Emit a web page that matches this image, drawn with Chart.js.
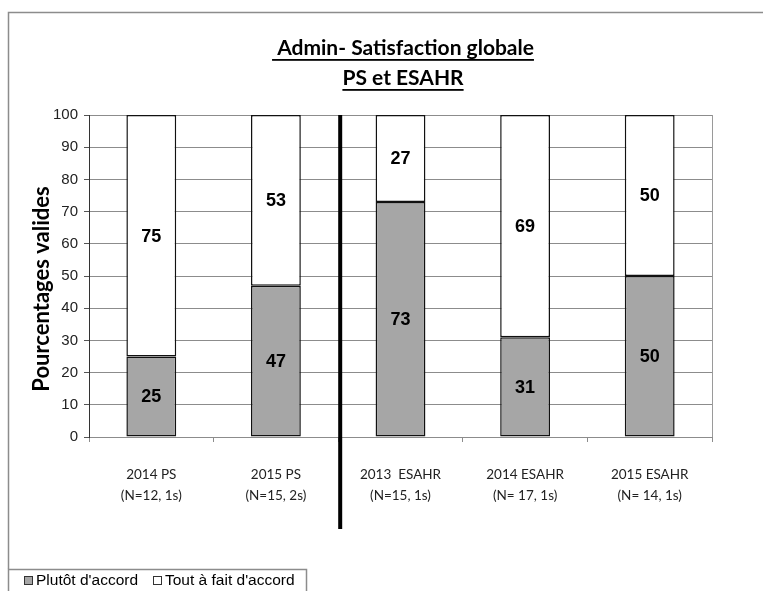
<!DOCTYPE html>
<html>
<head>
<meta charset="utf-8">
<script src="https://cdn.jsdelivr.net/npm/chart.js@4"></script>
<style>
  html, body { margin: 0; padding: 0; background: #fff; }
  #wrap { width: 763px; height: 591px; }
</style>
</head>
<body>
<div id="wrap"><canvas id="satChart" width="763" height="591"></canvas></div>
<script>
// categories and values
var categories = [
    ['2014 PS', '(N=12, 1s)'],
    ['2015 PS', '(N=15, 2s)'],
    ['2013  ESAHR', '(N=15, 1s)'],
    ['2014 ESAHR', '(N= 17, 1s)'],
    ['2015 ESAHR', '(N= 14, 1s)']
];
var plutotAccord = [25, 47, 73, 31, 50];
var toutAFait = [75, 53, 27, 69, 50];
var seriesNames = ["Plutôt d'accord", "Tout à fait d'accord"];
var seriesColors = ['#a6a6a6', '#ffffff'];
var titleLines = [' Admin- Satisfaction globale', 'PS et ESAHR'];

// frame, title, value labels, separator and legend
var decorPlugin = {
    id: 'decor',
    beforeDraw: function(chart) {
        var c = chart.ctx;
        c.save();
        c.fillStyle = '#fff';
        c.fillRect(0, 0, chart.width, chart.height);
        c.strokeStyle = '#8c8c8c';
        c.lineWidth = 1.5;
        c.beginPath();
        c.moveTo(8.5, 569);
        c.lineTo(8.5, 12.5);
        c.lineTo(763, 12.5);
        c.stroke();
        c.restore();
    },
    afterDraw: function(chart) {
        var c = chart.ctx;
        var area = chart.chartArea;
        var x = chart.scales.x;
        c.save();

        // right border of plot
        c.strokeStyle = '#9a9a9a';
        c.lineWidth = 1;
        c.beginPath();
        c.moveTo(Math.round(area.right) + 0.5, area.top);
        c.lineTo(Math.round(area.right) + 0.5, area.bottom);
        c.stroke();

        // title, underlined
        c.fillStyle = '#000';
        c.font = 'bold 21px Lato';
        c.textAlign = 'center';
        c.textBaseline = 'alphabetic';
        var ty = [55, 85];
        titleLines.forEach(function(t, i) {
            c.fillText(t, 403, ty[i]);
            var w = c.measureText(t).width;
            c.fillRect(403 - w / 2, ty[i] + 4, w, 1.8);
        });

        // y axis title
        c.save();
        c.translate(42, 289);
        c.rotate(-Math.PI / 2);
        c.font = 'bold 22px Lato';
        c.textBaseline = 'middle';
        c.fillText('Pourcentages valides', 0, 0);
        c.restore();

        // separator between PS and ESAHR
        var sx = (x.getPixelForValue(1) + x.getPixelForValue(2)) / 2 + 2;
        c.fillStyle = '#000';
        c.fillRect(sx - 2, area.top, 4, 529 - area.top);

        // values in the segments
        c.font = 'bold 18px "Liberation Sans"';
        c.textBaseline = 'middle';
        chart.data.datasets.forEach(function(ds, di) {
            chart.getDatasetMeta(di).data.forEach(function(bar, i) {
                c.fillText(String(ds.data[i]), bar.x, (bar.y + bar.base) / 2 + 1);
            });
        });

        // legend box
        c.strokeStyle = '#8c8c8c';
        c.lineWidth = 1.5;
        c.strokeRect(8.5, 569.5, 298, 40);
        c.font = '15.5px "Liberation Sans"';
        c.textAlign = 'left';
        var lx = [24, 153];
        seriesNames.forEach(function(n, i) {
            c.fillStyle = seriesColors[i];
            c.fillRect(lx[i] + 0.5, 576.5, 8, 8);
            c.strokeStyle = '#333';
            c.lineWidth = 1;
            c.strokeRect(lx[i] + 0.5, 576.5, 8, 8);
            c.fillStyle = '#000';
            c.fillText(n, lx[i] + 12, 581);
        });
        c.restore();
    }
};

var ctx = document.getElementById('satChart').getContext('2d');
var satChart = new Chart(ctx, {
    type: 'bar',
    data: {
        labels: categories,
        datasets: [{
            label: seriesNames[0],
            data: plutotAccord,
            backgroundColor: seriesColors[0],
            borderColor: '#111',
            borderWidth: 1.5,
            borderSkipped: false
        }, {
            label: seriesNames[1],
            data: toutAFait,
            backgroundColor: seriesColors[1],
            borderColor: '#111',
            borderWidth: 1.5,
            borderSkipped: false
        }]
    },
    options: {
        responsive: false,
        animation: false,
        devicePixelRatio: 1,
        categoryPercentage: 1,
        barPercentage: 0.4,
        layout: { padding: { left: 0, top: 115, right: 51, bottom: 0 } },
        plugins: {
            legend: { display: false },
            title: { display: false },
            tooltip: { enabled: false }
        },
        scales: {
            x: {
                stacked: true,
                afterFit: function(scale) { scale.height = 154; },
                grid: {
                    drawOnChartArea: false,
                    drawTicks: true,
                    tickLength: 5,
                    color: '#8c8c8c'
                },
                border: { color: '#8c8c8c', width: 1 },
                ticks: {
                    color: '#222',
                    font: { family: 'Lato', size: 13.5, lineHeight: 1.55 },
                    padding: 22,
                    maxRotation: 0
                }
            },
            y: {
                stacked: true,
                min: 0,
                max: 100,
                afterFit: function(scale) { scale.width = 89; },
                grid: {
                    color: '#8c8c8c',
                    tickLength: 5,
                    tickColor: '#555'
                },
                border: { color: '#333', width: 1 },
                ticks: {
                    stepSize: 10,
                    color: '#222',
                    font: { family: 'Liberation Sans', size: 15 },
                    padding: 6
                }
            }
        }
    },
    plugins: [decorPlugin]
});
</script>
</body>
</html>
